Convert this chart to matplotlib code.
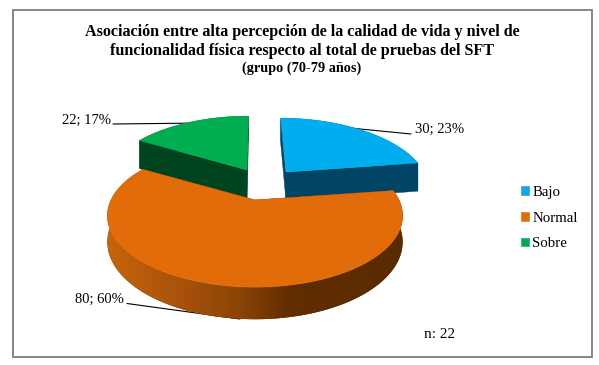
import matplotlib
matplotlib.use("Agg")
import matplotlib.pyplot as plt
from matplotlib.colors import LinearSegmentedColormap
from matplotlib.patches import Patch, Polygon, Rectangle
import numpy as np

categories = ["Bajo", "Normal", "Sobre"]
values = [30, 80, 22]
percents = [23, 60, 17]
colors = ["#00AEEF", "#E36C0A", "#00AD50"]
wall_colors = ["#004563", "#5A2A00", "#00441F"]
# pixel offset, size and thickness of each slice
offsets = [(31, -28), (0, 0), (-8, -30)]
scales = [0.96, 1, 0.96]
depths = [29, 25, 31]

title_lines = ["Asociación entre alta percepción de la calidad de vida y nivel de",
               "funcionalidad física respecto al total de pruebas del SFT"]
subtitle = "(grupo (70-79 años)"

cx, cy = 255, 200
R = 144
ky = 68
persp = 0.22

rim_cmap = LinearSegmentedColormap.from_list(
    "rim", [(0, "#C8640C"), (0.25, "#A8520A"), (0.45, "#8A4405"),
            (0.62, "#612D01"), (1, "#5A2A00")])

plt.rcParams["font.family"] = ["Liberation Serif", "DejaVu Serif"]
fig = plt.figure(figsize=(5.99, 3.65), dpi=100)
ax = fig.add_axes([0, 0, 1, 1])


def project(ang, r, off, drop=0.0):
    # ang is clockwise from 12 o'clock, in degrees
    a = np.radians(ang)
    x = r * np.sin(a)
    y = r * np.cos(a)
    f = 1 / (1 + persp * y)
    return (cx + (off[0] + R * x) * f,
            cy + off[1] - ky * y * f + drop * f)


def arc(a0, a1, r, off, drop=0.0):
    angs = np.linspace(a0, a1, 200)
    return np.array([project(a, r, off, drop) for a in angs])


ax.add_patch(Rectangle((12.5, 9.5), 579, 347.5, fc="white", ec="#868686", lw=1.4, zorder=0))

# slice angles from the values
total = sum(values)
edges = np.cumsum([0] + values) / total * 360
zorders = {0: 2, 2: 2, 1: 5}

for i in range(len(values)):
    a0, a1 = edges[i], edges[i + 1]
    off = offsets[i]
    r = scales[i]
    depth = depths[i]
    z = zorders[i]
    apex = np.array(project(0, 0, off))
    apex_low = np.array(project(0, 0, off, depth))

    # flat cut walls seen from the front
    for a in (a0, a1):
        p = np.array(project(a, r, off))
        q = np.array(project(a, r, off, depth))
        ax.add_patch(Polygon([apex, p, q, apex_low], fc=wall_colors[i],
                             ec=wall_colors[i], lw=0.3, zorder=z))

    # outer rim, the big slice is shaded left to right
    top = arc(a0, a1, r, off)
    low = arc(a0, a1, r, off, depth)
    rim = Polygon(np.vstack([top, low[::-1]]), fc=wall_colors[i], ec="none", zorder=z)
    ax.add_patch(rim)
    if i == 1:
        grad = np.linspace(0, 1, 300).reshape(1, -1)
        im = ax.imshow(grad, cmap=rim_cmap, aspect="auto", zorder=z,
                       extent=(cx - R - 6, cx + R + 6, cy + 130, cy - 10))
        im.set_clip_path(rim)

    ax.add_patch(Polygon(np.vstack([apex, top]), fc=colors[i], ec=colors[i],
                         lw=0.3, zorder=z + 1))

ax.set_xlim(0, 599)
ax.set_ylim(365, 0)
ax.axis("off")

# title
ax.text(302.5, 32, title_lines[0], ha="center", va="center", fontsize=11.65,
        fontweight="bold", color="black")
ax.text(302.5, 51, title_lines[1], ha="center", va="center", fontsize=11.65,
        fontweight="bold", color="black")
ax.text(302, 68.5, subtitle, ha="center", va="center", fontsize=10.3,
        fontweight="bold", color="black")

# data labels with leader lines, the lines run under the slices
label_pos = [(415, 129), (124, 299), (111, 120)]
label_ha = ["left", "right", "right"]
line_pts = [((411, 134), (350, 128)), ((127, 303.5), (240, 319)), ((113, 124), (205, 123))]
for i in range(len(values)):
    ax.text(label_pos[i][0], label_pos[i][1], f"{values[i]}; {percents[i]}%",
            ha=label_ha[i], va="center", fontsize=10.5, zorder=8)
    ax.annotate("", xy=line_pts[i][1], xytext=line_pts[i][0], zorder=1,
                arrowprops=dict(arrowstyle="-", color="black", lw=0.8,
                                shrinkA=0, shrinkB=0))

handles = [Patch(fc=c, ec="#4A7EBB" if n == 0 else c, lw=0.4)
           for n, c in enumerate(colors)]
ax.legend(handles, categories, loc="upper left", bbox_to_anchor=(521 / 599, 1 - 186 / 365),
          frameon=False, fontsize=10.7, handlelength=0.55, handleheight=0.55,
          handletextpad=0.2, labelspacing=0.85, borderpad=0, borderaxespad=0)

ax.text(424, 335, "n: 22", ha="left", va="center", fontsize=11)

fig.savefig("out.png", dpi=100)
